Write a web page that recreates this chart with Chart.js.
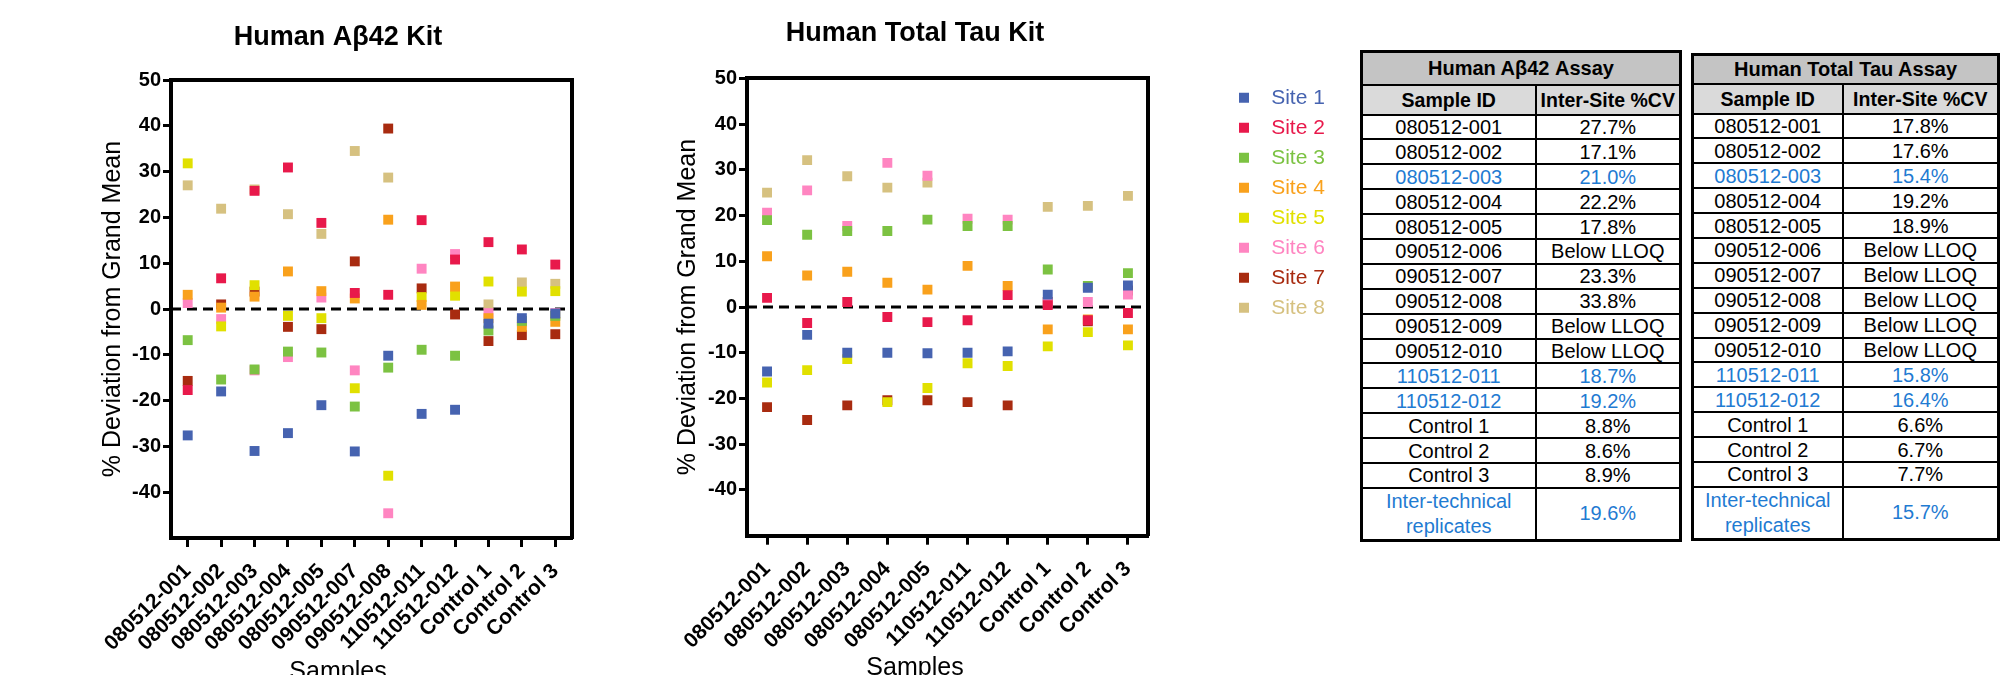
<!DOCTYPE html>
<html>
<head>
<meta charset="utf-8">
<title>Inter-site deviation</title>
<script src="https://cdn.jsdelivr.net/npm/chart.js@4.4.1/dist/chart.umd.min.js"></script>
<style>
  html, body { margin: 0; padding: 0; background: #fff; }
  body { width: 2006px; height: 675px; position: relative; overflow: hidden; font-family: 'Liberation Sans', Arial, sans-serif; }
  canvas { position: absolute; top: 0; }
  #abChart { left: 0; }
  #tauChart { left: 500px; }
  table.cv { position: absolute; border-collapse: collapse; table-layout: fixed; border: 3px solid #000; font-size: 20px; color: #000; }
  table.cv td, table.cv th { border: 2px solid #000; padding: 0; text-align: center; vertical-align: middle; line-height: 20px; white-space: nowrap; overflow: hidden; }
  table.cv th.head { background: #c4c4c4; font-size: 20px; }
  table.cv th.sub { background: #dadada; font-size: 19.5px; }
  table.cv tr.rep td { line-height: 25px; white-space: normal; }
  table.cv .hl { color: #1f7bd2; }
</style>
</head>
<body>
<canvas id="abChart" width="676" height="700"></canvas>
<canvas id="tauChart" width="830" height="700"></canvas>
<table id="abTable" class="cv" style="left:1360px; top:50px; width:319px;"></table>
<table id="tauTable" class="cv" style="left:1691px; top:53px; width:306px;"></table>
<script>
const siteNames = ['Site 1', 'Site 2', 'Site 3', 'Site 4', 'Site 5', 'Site 6', 'Site 7', 'Site 8'];
const siteColors = ['#4663b0', '#e8194b', '#7cc242', '#f9a11c', '#e1e000', '#ff85c1', '#a82b10', '#d6c180'];

// Abeta42 kit: % deviation from grand mean, one array per site
const abSamples = ['080512-001', '080512-002', '080512-003', '080512-004', '080512-005', '090512-007',
                   '090512-008', '110512-011', '110512-012', 'Control 1', 'Control 2', 'Control 3'];
const abDeviation = [
  [-27.6, -18.0, -31.0, -27.1, -21.0, -31.1, -10.2, -22.9, -22.0, -3.2, -2.0, -1.0],
  [-17.7, 6.7, 25.8, 30.9, 18.8, 3.5, 3.1, 19.4, 10.8, 14.6, 13.0, 9.7],
  [-6.8, -15.4, -13.2, -9.3, -9.5, -21.3, -12.8, -8.9, -10.2, -4.7, -2.6, -1.5],
  [3.1, 0.3, 2.7, 8.2, 3.9, 2.3, 19.5, 0.9, 4.9, -2.0, -3.9, -2.8],
  [31.8, -3.8, 5.2, -1.5, -2.0, -17.3, -36.4, 2.6, 2.9, 6.0, 3.8, 3.9],
  [1.3, -2.2, -13.4, -10.5, 2.5, -13.4, -44.6, 8.8, 12.0, -0.9, -2.8, -0.9],
  [-15.7, 1.0, 3.8, -3.9, -4.4, 10.4, 39.4, 4.5, -1.2, -7.0, -5.7, -5.5],
  [27.0, 21.9, 26.1, 20.7, 16.4, 34.5, 28.7, null, null, 1.0, 5.8, 5.5]
];

// Total tau kit
const tauSamples = ['080512-001', '080512-002', '080512-003', '080512-004', '080512-005',
                    '110512-011', '110512-012', 'Control 1', 'Control 2', 'Control 3'];
const tauDeviation = [
  [-14.1, -6.1, -10.0, -10.0, -10.1, -10.0, -9.7, 2.7, 4.2, 4.7],
  [2.0, -3.5, 1.1, -2.2, -3.3, -2.9, 2.6, 0.4, -2.9, -1.3],
  [19.0, 15.8, 16.6, 16.6, 19.1, 17.7, 17.7, 8.2, 4.6, 7.4],
  [11.1, 6.9, 7.7, 5.3, 3.8, 9.0, 4.6, -4.9, -2.7, -4.9],
  [-16.5, -13.8, -11.4, -20.8, -17.7, -12.3, -12.9, -8.6, -5.5, -8.4],
  [20.6, 25.5, 17.7, 31.5, 28.7, 19.3, 19.1, 1.0, 1.1, 2.7],
  [-21.9, -24.7, -21.5, -20.4, -20.4, -20.8, -21.5, 1.1, -3.1, 3.6],
  [25.0, 32.1, 28.6, 26.1, 27.2, null, null, 21.9, 22.1, 24.3]
];

// inter-site %CV tables
const cvSampleIds = ['080512-001', '080512-002', '080512-003', '080512-004', '080512-005', '090512-006',
                     '090512-007', '090512-008', '090512-009', '090512-010', '110512-011', '110512-012',
                     'Control 1', 'Control 2', 'Control 3', 'Inter-technical replicates'];
const abCV = ['27.7%', '17.1%', '21.0%', '22.2%', '17.8%', 'Below LLOQ', '23.3%', '33.8%',
              'Below LLOQ', 'Below LLOQ', '18.7%', '19.2%', '8.8%', '8.6%', '8.9%', '19.6%'];
const tauCV = ['17.8%', '17.6%', '15.4%', '19.2%', '18.9%', 'Below LLOQ', 'Below LLOQ', 'Below LLOQ',
               'Below LLOQ', 'Below LLOQ', '15.8%', '16.4%', '6.6%', '6.7%', '7.7%', '15.7%'];
const highlighted = ['080512-003', '110512-011', '110512-012', 'Inter-technical replicates'];

Chart.defaults.font.family = "'Liberation Sans', Arial, sans-serif";
Chart.defaults.color = '#000';

// dashed reference line at 0 %
const zeroLine = {
  id: 'zeroLine',
  beforeDatasetsDraw(chart) {
    const {ctx, chartArea: {left, right}, scales: {y}} = chart;
    const y0 = y.getPixelForValue(0);
    ctx.save();
    ctx.strokeStyle = '#000';
    ctx.lineWidth = 3;
    ctx.setLineDash([10, 6]);
    ctx.beginPath();
    ctx.moveTo(left, y0);
    ctx.lineTo(right, y0);
    ctx.stroke();
    ctx.restore();
  }
};

const frame = {display: true, color: '#000', width: 4};

function kitChart(id, title, labels, deviation, box) {
  return new Chart(document.getElementById(id), {
    type: 'line',
    data: {
      labels: labels,
      datasets: deviation.map((vals, i) => ({
        label: siteNames[i],
        data: vals,
        xAxisID: 'x',
        yAxisID: 'y',
        showLine: false,
        backgroundColor: siteColors[i],
        borderColor: siteColors[i],
        pointStyle: 'rect',
        pointRadius: 7,
        pointHoverRadius: 7,
        pointBorderWidth: 0
      }))
    },
    options: {
      responsive: false,
      animation: false,
      events: [],
      layout: {padding: 0},
      plugins: {
        title: {display: true, text: title, font: {size: 27, weight: 'bold'}, padding: {top: box.titleTop, bottom: 0}},
        subtitle: {display: true, text: 'Samples', position: 'bottom', font: {size: 25, weight: 'normal'},
                   padding: {top: 0, bottom: box.samplesBottom}},
        tooltip: {enabled: false},
        legend: box.legend ? {
          display: true,
          position: 'right',
          align: 'start',
          fullSize: false,
          maxWidth: 100,
          labels: {
            boxWidth: 10,
            boxHeight: 10,
            padding: 9,
            font: {size: 21},
            generateLabels(chart) {
              return Chart.defaults.plugins.legend.labels.generateLabels(chart).map(item =>
                Object.assign(item, {text: '  ' + item.text, fontColor: item.fillStyle, lineWidth: 0}));
            }
          }
        } : {display: false}
      },
      scales: {
        x: {
          type: 'category',
          offset: true,
          grid: {display: true, drawOnChartArea: false, drawTicks: true, offset: false,
                 tickLength: 9, tickWidth: 3, tickColor: '#000'},
          border: frame,
          ticks: {autoSkip: false, minRotation: 45, maxRotation: 45, padding: 12,
                  font: {size: 21, weight: 'bold'}},
          afterFit: s => { s.height = box.xHeight; }
        },
        y: {
          type: 'linear',
          min: -50,
          max: 50,
          grid: {display: true, drawOnChartArea: false, drawTicks: true,
                 tickLength: 8, tickWidth: 3, tickColor: '#000'},
          border: frame,
          ticks: {stepSize: 10, padding: 2, font: {size: 20, weight: 'bold'},
                  callback: v => (v === -50 ? null : v)},
          title: {display: true, text: '% Deviation from Grand Mean', font: {size: 25},
                  padding: {top: box.yTitlePad, bottom: 0}},
          afterFit: s => { s.width = box.yWidth; }
        },
        xTop: {
          type: 'linear', axis: 'x', position: 'top',
          grid: {display: false}, ticks: {display: false}, border: frame,
          afterFit: s => { s.height = box.topHeight; }
        },
        yRight: {
          type: 'linear', axis: 'y', position: 'right',
          grid: {display: false}, ticks: {display: false}, border: frame,
          afterFit: s => { s.width = box.rightWidth; }
        }
      }
    },
    plugins: [zeroLine]
  });
}

kitChart('abChart', 'Human A\u03b242 Kit', abSamples, abDeviation, {
  titleTop: 21.8, topHeight: 25.8, yWidth: 171, yTitlePad: 98,
  rightWidth: 104, xHeight: 119, samplesBottom: 13, legend: false
});

kitChart('tauChart', 'Human Total Tau Kit', tauSamples, tauDeviation, {
  titleTop: 17.8, topHeight: 28.1, yWidth: 247, yTitlePad: 173,
  rightWidth: 82, xHeight: 117.3, samplesBottom: 17, legend: true
});

function fillTable(id, title, values, dims) {
  const rows = [];
  rows.push(`<colgroup><col style="width:${dims.cols[0]}px"><col style="width:${dims.cols[1]}px"></colgroup>`);
  rows.push(`<tr style="height:${dims.head}px"><th class="head" colspan="2">${title}</th></tr>`);
  rows.push(`<tr style="height:${dims.sub}px"><th class="sub">Sample ID</th><th class="sub">Inter-Site %CV</th></tr>`);
  cvSampleIds.forEach((sid, i) => {
    const last = i === cvSampleIds.length - 1;
    const cls = highlighted.includes(sid) ? ' class="hl"' : '';
    const label = last ? 'Inter-technical<br>replicates' : sid;
    rows.push(`<tr${last ? ' class="rep"' : ''} style="height:${last ? dims.last : dims.row}px">` +
              `<td${cls}>${label}</td><td${cls}>${values[i]}</td></tr>`);
  });
  document.getElementById(id).innerHTML = rows.join('');
}

fillTable('abTable', 'Human A\u03b242 Assay', abCV, {cols: [174, 145], head: 33, sub: 30, row: 24.9, last: 51});
fillTable('tauTable', 'Human Total Tau Assay', tauCV, {cols: [150, 156], head: 29, sub: 30, row: 24.9, last: 48});
</script>
</body>
</html>
